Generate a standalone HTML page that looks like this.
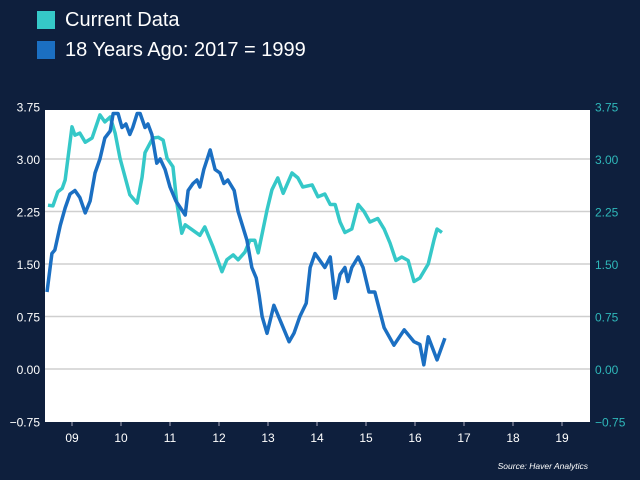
<!DOCTYPE html>
<html><head><meta charset="utf-8"><style>
body{margin:0;background:#0e1f3d;font-family:"Liberation Sans",sans-serif}
#wrap{position:relative;width:640px;height:480px;overflow:hidden;background:#0e1f3d}
.leg{position:absolute;left:37px;height:20px;display:flex;align-items:center;color:#fff;font-size:20px}
.sw{width:18px;height:18px;margin-right:10px}
</style></head><body>
<div id="wrap">
<div class="leg" style="top:10px"><div class="sw" style="background:#35c8c8"></div>Current Data</div>
<div class="leg" style="top:40px"><div class="sw" style="background:#1b6fc2"></div>18 Years Ago: 2017 = 1999</div>
<svg id="svg" width="640" height="480" style="position:absolute;left:0;top:0"></svg>
</div>
<script>
const yTicks=[-0.75,0,0.75,1.5,2.25,3,3.75];
const yTickLabels=["\u22120.75","0.00","0.75","1.50","2.25","3.00","3.75"];
const xTickYears=[2009,2010,2011,2012,2013,2014,2015,2016,2017,2018,2019];
const xTickLabels=["09","10","11","12","13","14","15","16","17","18","19"];
const currentDates=[2008.51,2008.61,2008.71,2008.80,2008.86,2009.00,2009.06,2009.16,2009.27,2009.41,2009.57,2009.67,2009.78,2009.88,2009.98,2010.18,2010.33,2010.43,2010.49,2010.65,2010.76,2010.86,2010.94,2011.06,2011.14,2011.24,2011.31,2011.45,2011.61,2011.71,2011.88,2012.06,2012.16,2012.29,2012.39,2012.53,2012.63,2012.73,2012.80,2012.98,2013.08,2013.20,2013.31,2013.49,2013.61,2013.71,2013.90,2014.02,2014.16,2014.27,2014.37,2014.47,2014.57,2014.71,2014.84,2014.96,2015.08,2015.24,2015.37,2015.49,2015.61,2015.73,2015.86,2015.98,2016.10,2016.27,2016.39,2016.45,2016.55];
const currentValues=[2.34,2.33,2.53,2.58,2.70,3.46,3.34,3.37,3.24,3.30,3.63,3.53,3.60,3.37,3.01,2.49,2.37,2.74,3.09,3.30,3.31,3.27,3.01,2.89,2.37,1.94,2.06,1.99,1.91,2.03,1.74,1.39,1.56,1.63,1.56,1.67,1.84,1.84,1.66,2.27,2.56,2.73,2.51,2.80,2.73,2.60,2.63,2.46,2.50,2.35,2.35,2.10,1.95,2.00,2.35,2.25,2.10,2.15,2.00,1.80,1.55,1.60,1.55,1.25,1.30,1.50,1.85,2.00,1.95];
const agoDates=[2008.49,2008.59,2008.65,2008.76,2008.86,2008.96,2009.06,2009.16,2009.27,2009.37,2009.47,2009.57,2009.67,2009.78,2009.84,2009.94,2010.02,2010.10,2010.18,2010.24,2010.33,2010.39,2010.49,2010.55,2010.63,2010.73,2010.80,2010.90,2011.00,2011.12,2011.31,2011.37,2011.47,2011.55,2011.61,2011.69,2011.82,2011.92,2012.02,2012.10,2012.18,2012.31,2012.39,2012.57,2012.67,2012.76,2012.82,2012.88,2012.98,2013.12,2013.43,2013.53,2013.65,2013.78,2013.86,2013.96,2014.06,2014.16,2014.27,2014.37,2014.47,2014.57,2014.63,2014.71,2014.84,2014.94,2015.06,2015.18,2015.37,2015.57,2015.78,2015.98,2016.10,2016.18,2016.27,2016.45,2016.61];
const agoValues=[1.10,1.65,1.70,2.05,2.30,2.50,2.55,2.45,2.23,2.40,2.80,3.00,3.30,3.40,3.65,3.65,3.45,3.50,3.35,3.45,3.65,3.65,3.45,3.50,3.35,2.94,3.00,2.85,2.60,2.40,2.20,2.55,2.65,2.70,2.60,2.85,3.13,2.85,2.80,2.65,2.70,2.55,2.25,1.84,1.45,1.30,1.05,0.75,0.51,0.91,0.39,0.51,0.75,0.94,1.45,1.65,1.55,1.45,1.60,1.01,1.35,1.45,1.25,1.45,1.60,1.45,1.10,1.10,0.59,0.34,0.56,0.39,0.35,0.06,0.46,0.13,0.44];

const NS="http://www.w3.org/2000/svg";
const svg=document.getElementById('svg');
const L=45,R=590,T=110,B=422;
const x=t=>72+49*(t-2009);
const y=v=>369-70*v;
function mk(tag,attrs,parent){const e=document.createElementNS(NS,tag);for(const k in attrs)e.setAttribute(k,attrs[k]);(parent||svg).appendChild(e);return e;}
const bg=mk('rect',{x:L,y:T,width:R-L,height:B-T,fill:'#fff'});


yTicks.forEach((v,i)=>{
  if(v>-0.75&&v<3.75){const g=mk('line',{x1:L,x2:R,y1:y(v),y2:y(v),stroke:'#cfcfcf','stroke-width':1.5});
  
  }
  const a=mk('text',{x:40,y:y(v)+5,'text-anchor':'end',fill:'#fff','font-size':12,'font-family':'Liberation Sans, sans-serif'});a.textContent=yTickLabels[i];
  
  
  const b=mk('text',{x:595,y:y(v)+5,fill:'#2fb8ba','font-size':12,'font-family':'Liberation Sans, sans-serif'});b.textContent=yTickLabels[i];
  
  
});
xTickYears.forEach((t,i)=>{
  const tk=mk('line',{x1:x(t),x2:x(t),y1:B,y2:B+4,stroke:'#aab',ofill:'none','stroke-width':1});
  
  
  const l=mk('text',{x:x(t),y:B+20,'text-anchor':'middle',fill:'#fff','font-size':12,'font-family':'Liberation Sans, sans-serif'});l.textContent=xTickLabels[i];
  
  
});
function line(ds,vs,col,name){
  const p=mk('polyline',{points:ds.map((d,i)=>x(d)+','+y(vs[i])).join(' '),fill:'none',stroke:col,'stroke-width':3.5,'stroke-linejoin':'round'});
  
  
}
line(currentDates,currentValues,'#35c8c8','current-data-line');
line(agoDates,agoValues,'#1b6fc2','18-years-ago-line');
const s=mk('text',{x:588,y:469,'text-anchor':'end',fill:'#fff','font-size':8.5,'font-style':'italic','font-family':'Liberation Sans, sans-serif'});s.textContent='Source: Haver Analytics';


</script>
</body></html>
